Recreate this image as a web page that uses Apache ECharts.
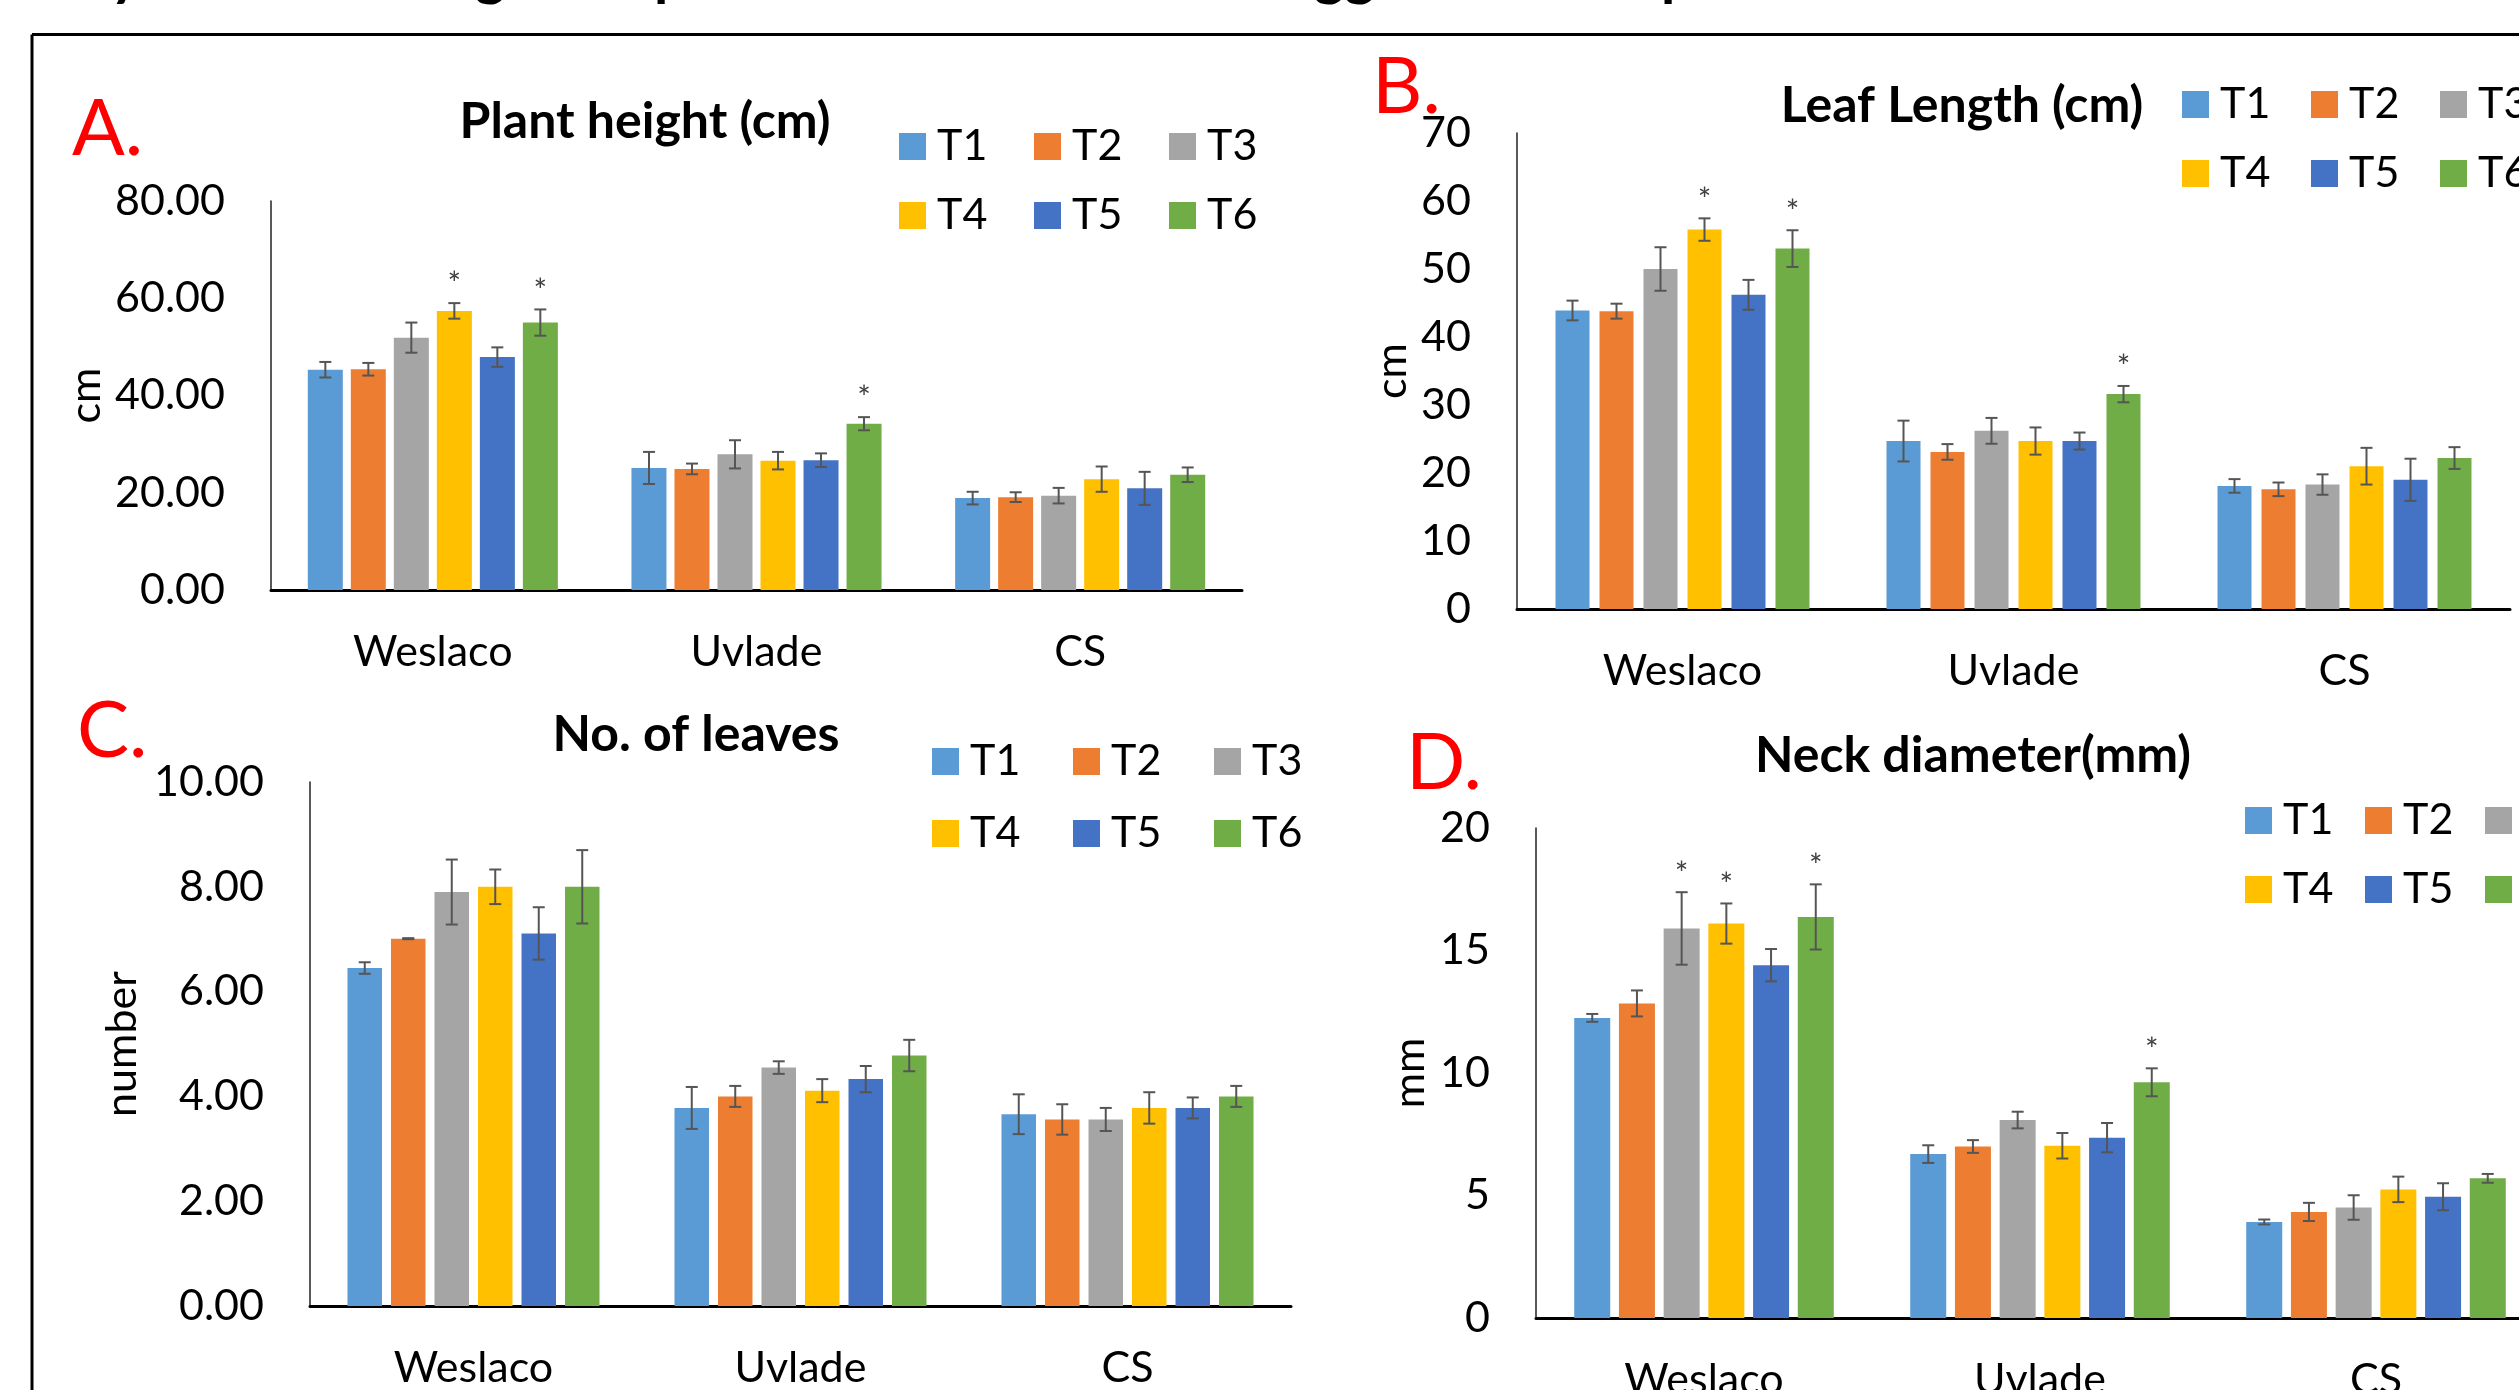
<!DOCTYPE html>
<html>
<head>
<meta charset="utf-8">
<script src="https://cdn.jsdelivr.net/npm/echarts@6/dist/echarts.min.js"></script>
<style>
  html, body { margin: 0; padding: 0; background: #fff; }
  #chart { width: 2519px; height: 1390px; }
</style>
</head>
<body>
<div id="chart"></div>
<script>
const categories = ["Weslaco", "Uvlade", "CS"];
const treatments = ["T1", "T2", "T3", "T4", "T5", "T6"];
const colors = ["#5B9BD5", "#ED7D31", "#A5A5A5", "#FFC000", "#4472C4", "#70AD47"];

// rows are T1..T6, columns are Weslaco, Uvlade, CS
const heightMean = [
  [45.3, 25.1, 18.9],
  [45.4, 24.9, 19.1],
  [51.9, 27.9, 19.4],
  [57.4, 26.6, 22.8],
  [47.9, 26.7, 20.9],
  [55.0, 34.2, 23.7]
];
const heightErr = [
  [1.6, 3.3, 1.3],
  [1.3, 1.1, 1.0],
  [3.1, 2.9, 1.6],
  [1.6, 1.8, 2.6],
  [2.0, 1.4, 3.4],
  [2.7, 1.35, 1.5]
];
const heightStars = [[3, 0], [5, 0], [5, 1]]; // [treatment, category]

const leafMean = [
  [43.9, 24.7, 18.1],
  [43.8, 23.1, 17.6],
  [50.0, 26.2, 18.3],
  [55.8, 24.7, 21.0],
  [46.2, 24.7, 19.0],
  [53.0, 31.6, 22.2]
];
const leafErr = [
  [1.45, 3.0, 1.0],
  [1.1, 1.15, 1.0],
  [3.2, 1.9, 1.5],
  [1.65, 2.0, 2.7],
  [2.2, 1.25, 3.1],
  [2.7, 1.2, 1.6]
];
const leafStars = [[3, 0], [5, 0], [5, 1]];

const leavesMean = [
  [6.45, 3.78, 3.66],
  [7.01, 4.00, 3.56],
  [7.90, 4.55, 3.56],
  [8.00, 4.11, 3.78],
  [7.11, 4.33, 3.78],
  [8.00, 4.78, 4.00]
];
const leavesErr = [
  [0.11, 0.40, 0.38],
  [0.01, 0.20, 0.29],
  [0.62, 0.12, 0.22],
  [0.33, 0.22, 0.30],
  [0.50, 0.25, 0.20],
  [0.70, 0.30, 0.20]
];
const leavesStars = [];

const neckMean = [
  [12.25, 6.69, 3.92],
  [12.84, 7.00, 4.33],
  [15.90, 8.08, 4.51],
  [16.10, 7.03, 5.25],
  [14.40, 7.36, 4.95],
  [16.37, 9.62, 5.70]
];
const neckErr = [
  [0.16, 0.36, 0.10],
  [0.53, 0.26, 0.37],
  [1.48, 0.34, 0.50],
  [0.82, 0.52, 0.52],
  [0.66, 0.60, 0.55],
  [1.33, 0.57, 0.18]
];
const neckStars = [[2, 0], [3, 0], [5, 0], [5, 1]];

const FONT = 'Lato, "Noto Sans", sans-serif';

// layout of the four panels
const panels = [
  {
    mean: heightMean, err: heightErr, stars: heightStars,
    title: "Plant height (cm)", letter: "A.", yName: "cm", max: 80, interval: 20, decimals: 2,
    grid: { left: 271, top: 201, width: 971, height: 389 }, nameGap: 163,
    bw: 35, gap: 8, titleX: 645, titleY: 122, letterX: 72, letterY: 130,
    legendX: 899, legendY: [146, 215], legendPitch: 135
  },
  {
    mean: leafMean, err: leafErr, stars: leafStars,
    title: "Leaf Length (cm)", letter: "B.", yName: "cm", max: 70, interval: 10, decimals: 0,
    grid: { left: 1517, top: 133, width: 993, height: 476 }, nameGap: 103,
    bw: 34, gap: 10, titleX: 1962, titleY: 106, letterX: 1372, letterY: 88,
    legendX: 2182, legendY: [104, 173], legendPitch: 129
  },
  {
    mean: leavesMean, err: leavesErr, stars: leavesStars,
    title: "No. of leaves", letter: "C.", yName: "number", max: 10, interval: 2, decimals: 2,
    grid: { left: 310, top: 782, width: 981, height: 524 }, nameGap: 166,
    bw: 34.5, gap: 9, titleX: 696, titleY: 735, letterX: 77, letterY: 732,
    legendX: 932, legendY: [761, 833], legendPitch: 141
  },
  {
    mean: neckMean, err: neckErr, stars: neckStars,
    title: "Neck diameter(mm)", letter: "D.", yName: "mm", max: 20, interval: 5, decimals: 0,
    grid: { left: 1536, top: 828, width: 1008, height: 490 }, nameGap: 104,
    bw: 36, gap: 8.7, titleX: 1973, titleY: 756, letterX: 1406, letterY: 764,
    legendX: 2245, legendY: [820, 889], legendPitch: 120
  }
];

const chart = echarts.init(document.getElementById("chart"));

const grids = [], xAxes = [], yAxes = [], series = [], legends = [];
const graphics = [
  // frame round the figure
  { type: "line", shape: { x1: 32, y1: 34.5, x2: 2519, y2: 34.5 }, style: { stroke: "#000", lineWidth: 3 } },
  { type: "line", shape: { x1: 32, y1: 34.5, x2: 32, y2: 1390 }, style: { stroke: "#000", lineWidth: 3 } }
];

// descenders of the caption line that is cut off at the top
[["y", 110], ["g", 475], ["p", 654], ["gg", 1314], ["p", 1661]].forEach(([t, x]) => {
  graphics.push({
    type: "text", x: x, y: -25,
    style: { text: t, font: "bold 58px " + FONT, fill: "#000", textAlign: "left", textVerticalAlign: "middle" }
  });
});

panels.forEach((p, pi) => {
  grids.push(Object.assign({ outerBoundsMode: "none", containLabel: false }, p.grid));

  xAxes.push({
    type: "category", gridIndex: pi, data: categories,
    axisLine: { lineStyle: { color: "#000", width: 3 } },
    axisTick: { show: false },
    axisLabel: { color: "#000", fontFamily: FONT, fontSize: 43, margin: 41 }
  });

  yAxes.push({
    type: "value", gridIndex: pi, min: 0, max: p.max, interval: p.interval,
    name: p.yName, nameLocation: "middle", nameRotate: 90, nameGap: p.nameGap,
    nameTextStyle: { color: "#000", fontFamily: FONT, fontSize: 43 },
    axisLine: { show: true, lineStyle: { color: "#222", width: 1.5 } },
    axisTick: { show: false },
    splitLine: { show: false },
    axisLabel: {
      color: "#000", fontFamily: FONT, fontSize: 43, margin: 46,
      formatter: (v) => v.toFixed(p.decimals)
    }
  });

  treatments.forEach((t, ti) => {
    series.push({
      type: "bar", name: t, xAxisIndex: pi, yAxisIndex: pi,
      data: p.mean[ti],
      barWidth: p.bw,
      barGap: (p.gap / p.bw * 100).toFixed(1) + "%",
      itemStyle: { color: colors[ti] },
      silent: true
    });
  });

  // error bars and significance marks
  const errData = [];
  treatments.forEach((t, ti) => {
    categories.forEach((c, ci) => {
      const star = p.stars.some(s => s[0] === ti && s[1] === ci) ? 1 : 0;
      errData.push([ci, ti, p.mean[ti][ci], p.err[ti][ci], star]);
    });
  });
  const pitch = p.bw + p.gap;
  series.push({
    type: "custom", name: "err" + pi, xAxisIndex: pi, yAxisIndex: pi,
    data: errData, encode: { x: 0, y: 2 }, silent: true, clip: false, z: 5,
    renderItem: (params, api) => {
      const ci = api.value(0), ti = api.value(1), m = api.value(2), e = api.value(3);
      const x = api.coord([ci, m])[0] + (ti - 2.5) * pitch;
      const yt = api.coord([ci, m + e])[1];
      const yb = api.coord([ci, m - e])[1];
      const st = { stroke: "#555", lineWidth: 2 };
      const children = [
        { type: "line", shape: { x1: x, y1: yt, x2: x, y2: yb }, style: st },
        { type: "line", shape: { x1: x - 6, y1: yt, x2: x + 6, y2: yt }, style: st },
        { type: "line", shape: { x1: x - 6, y1: yb, x2: x + 6, y2: yb }, style: st }
      ];
      if (api.value(4)) {
        children.push({
          type: "text", x: x, y: yt - 18,
          style: { text: "*", font: "32px " + FONT, fill: "#404040", textAlign: "center", textVerticalAlign: "middle" }
        });
      }
      return { type: "group", children: children };
    }
  });

  // two legend rows of three items; wide box so rows never wrap at the page edge
  [treatments.slice(0, 3), treatments.slice(3)].forEach((row, ri) => {
    legends.push({
      data: row, orient: "horizontal", left: p.legendX, top: p.legendY[ri] - 21,
      width: 600, padding: 0, icon: "rect", itemWidth: 27, itemHeight: 27,
      itemGap: p.legendPitch - 27 - 5 - 6 - 56, selectedMode: false,
      textStyle: { color: "#000", fontFamily: FONT, fontSize: 43, lineHeight: 42, width: 56, padding: [0, 0, 0, 6] }
    });
  });

  graphics.push({
    type: "text", x: p.titleX, y: p.titleY,
    style: { text: p.title, font: "bold 50px " + FONT, fill: "#000", textAlign: "center", textVerticalAlign: "middle" }
  });
  graphics.push({
    type: "text", x: p.letterX, y: p.letterY,
    style: { text: p.letter, font: "78px " + FONT, fill: "#FF0000", textAlign: "left", textVerticalAlign: "middle" }
  });
});

chart.setOption({
  animation: false,
  backgroundColor: "#fff",
  grid: grids,
  xAxis: xAxes,
  yAxis: yAxes,
  legend: legends,
  series: series,
  graphic: graphics
});

window.addEventListener("resize", () => chart.resize());
</script>
</body>
</html>
